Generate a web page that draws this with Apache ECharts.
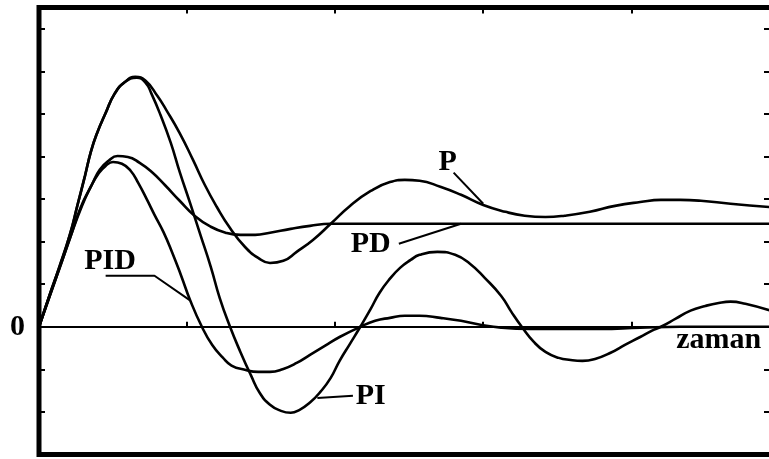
<!DOCTYPE html>
<html>
<head>
<meta charset="utf-8">
<script src="https://cdn.jsdelivr.net/npm/echarts@6/dist/echarts.min.js"></script>
<style>
  html, body { margin: 0; padding: 0; background: #fff; }
  #chart { width: 769px; height: 459px; }
</style>
</head>
<body>
<div id="chart"></div>
<script>
// step responses, time in tick units, output in tick units
var pTime = [0, 0.07, 0.14, 0.21, 0.26, 0.31, 0.35, 0.39, 0.45, 0.51, 0.58, 0.65, 0.72, 0.80, 0.86, 0.95, 1.04, 1.12, 1.20, 1.29, 1.39, 1.48, 1.56, 1.65, 1.74, 1.85, 1.97, 2.10, 2.24, 2.37, 2.47, 2.57, 2.71, 2.85, 3.00, 3.15, 3.28, 3.42, 3.55, 3.72, 3.89, 4.06, 4.20, 4.33, 4.47, 4.67, 4.95];
var pValue = [0, 0.73, 1.43, 2.18, 2.86, 3.54, 4.11, 4.53, 5.02, 5.47, 5.75, 5.87, 5.78, 5.42, 5.09, 4.55, 3.92, 3.33, 2.82, 2.32, 1.88, 1.62, 1.50, 1.55, 1.76, 2.04, 2.42, 2.84, 3.19, 3.40, 3.45, 3.43, 3.29, 3.10, 2.86, 2.70, 2.61, 2.58, 2.61, 2.70, 2.84, 2.93, 2.98, 2.98, 2.96, 2.89, 2.81];

var piTime = [0, 0.07, 0.14, 0.21, 0.26, 0.31, 0.35, 0.39, 0.45, 0.51, 0.58, 0.66, 0.72, 0.76, 0.82, 0.89, 0.95, 1.02, 1.09, 1.16, 1.22, 1.29, 1.36, 1.43, 1.49, 1.56, 1.63, 1.70, 1.76, 1.83, 1.90, 1.97, 2.03, 2.10, 2.17, 2.24, 2.30, 2.37, 2.44, 2.51, 2.57, 2.69, 2.81, 2.91, 3.01, 3.12, 3.19, 3.26, 3.34, 3.42, 3.51, 3.59, 3.67, 3.76, 3.86, 3.96, 4.06, 4.14, 4.20, 4.30, 4.40, 4.50, 4.59, 4.67, 4.77, 4.95];
var piValue = [0, 0.73, 1.43, 2.18, 2.86, 3.54, 4.11, 4.53, 5.02, 5.47, 5.75, 5.85, 5.73, 5.47, 4.98, 4.32, 3.64, 2.91, 2.16, 1.41, 0.68, 0, -0.59, -1.13, -1.55, -1.83, -1.97, -2.02, -1.95, -1.78, -1.53, -1.20, -0.80, -0.40, 0, 0.42, 0.80, 1.13, 1.39, 1.57, 1.69, 1.76, 1.69, 1.48, 1.15, 0.73, 0.35, 0, -0.35, -0.59, -0.73, -0.78, -0.80, -0.75, -0.61, -0.42, -0.24, -0.09, 0, 0.19, 0.38, 0.49, 0.56, 0.59, 0.54, 0.37];

var pdTime = [0, 0.07, 0.14, 0.21, 0.29, 0.36, 0.41, 0.47, 0.53, 0.60, 0.68, 0.76, 0.85, 0.95, 1.05, 1.16, 1.26, 1.36, 1.46, 1.56, 1.70, 1.83, 1.97, 2.17, 4.95];
var pdValue = [0, 0.70, 1.39, 2.09, 2.84, 3.36, 3.69, 3.90, 4.01, 3.99, 3.85, 3.64, 3.33, 2.96, 2.61, 2.35, 2.21, 2.16, 2.16, 2.21, 2.30, 2.37, 2.42, 2.42, 2.42];

var pidTime = [0, 0.07, 0.14, 0.21, 0.28, 0.35, 0.40, 0.45, 0.50, 0.56, 0.62, 0.67, 0.73, 0.78, 0.84, 0.90, 0.96, 1.02, 1.10, 1.17, 1.24, 1.30, 1.39, 1.48, 1.56, 1.65, 1.74, 1.83, 1.93, 2.03, 2.17, 2.27, 2.37, 2.47, 2.57, 2.71, 2.85, 2.98, 3.12, 3.32, 3.52, 3.79, 4.06, 4.33, 4.95];
var pidValue = [0, 0.70, 1.39, 2.09, 2.79, 3.29, 3.59, 3.78, 3.87, 3.83, 3.66, 3.38, 2.98, 2.63, 2.23, 1.74, 1.20, 0.63, 0, -0.43, -0.72, -0.91, -1.01, -1.06, -1.06, -0.99, -0.85, -0.66, -0.45, -0.24, 0, 0.14, 0.21, 0.26, 0.26, 0.21, 0.14, 0.05, -0.02, -0.05, -0.05, -0.05, -0.02, 0, 0];

// curve names and where they sit
var labelNames = ['P', 'PD', 'PI', 'PID', 'zaman'];
var labelX = [2.76, 2.24, 2.24, 0.48, 4.59];
var labelY = [3.87, 1.93, -1.62, 1.53, -0.31];

// leader lines from the names to the curves
var pLeader = [[2.80, 3.62], [3.00, 2.89]];
var pdLeader = [[2.43, 1.95], [2.85, 2.42]];
var piLeader = [[1.88, -1.67], [2.12, -1.62]];
var pidLeader = [[0.45, 1.20], [0.78, 1.20], [1.02, 0.62]];

function zip(t, v) {
  return t.map(function (x, i) { return [x, v[i]]; });
}

var serif = '"Liberation Serif", "DejaVu Serif", serif';

function curve(name, data) {
  return {
    name: name,
    type: 'line',
    data: data,
    smooth: 0.5,
    showSymbol: false,
    lineStyle: { color: '#000', width: 2.6 },
    z: 3
  };
}

function leader(data) {
  return {
    type: 'line',
    data: data,
    showSymbol: false,
    lineStyle: { color: '#000', width: 2 },
    z: 3
  };
}

var chart = echarts.init(document.getElementById('chart'));
var option = {
  animation: false,
  backgroundColor: '#fff',
  // right edge of the frame sits just past the picture
  grid: {
    left: 39, top: 7.5, width: 733, height: 447,
    outerBoundsMode: 'none',
    show: true, borderColor: '#000', borderWidth: 5
  },
  xAxis: [
    {
      // zero line with small upward ticks
      type: 'value', min: 0, max: 4.95, interval: 1, position: 'bottom',
      axisLine: { onZero: true, lineStyle: { color: '#000', width: 2 } },
      axisTick: { inside: true, length: 5, lineStyle: { color: '#000', width: 2 } },
      axisLabel: { show: false },
      splitLine: { show: false }
    },
    {
      type: 'value', min: 0, max: 4.95, interval: 1, position: 'top',
      axisLine: { show: false, onZero: false },
      axisTick: { inside: true, length: 6, lineStyle: { color: '#000', width: 2 } },
      axisLabel: { show: false },
      splitLine: { show: false }
    }
  ],
  yAxis: [
    {
      type: 'value', min: -3, max: 7.5, interval: 1, position: 'left',
      axisLine: { show: false, onZero: false },
      axisTick: { inside: true, length: 6, lineStyle: { color: '#000', width: 2 } },
      axisLabel: {
        margin: 14,
        color: '#000',
        fontFamily: serif,
        fontWeight: 'bold',
        fontSize: 30,
        formatter: function (v) { return v === 0 ? '0' : ''; }
      },
      splitLine: { show: false }
    },
    {
      type: 'value', min: -3, max: 7.5, interval: 1, position: 'right',
      axisLine: { show: false, onZero: false },
      axisTick: { inside: true, length: 8, lineStyle: { color: '#000', width: 2 } },
      axisLabel: { show: false },
      splitLine: { show: false }
    }
  ],
  series: [
    curve('P', zip(pTime, pValue)),
    curve('PI', zip(piTime, piValue)),
    curve('PD', zip(pdTime, pdValue)),
    curve('PID', zip(pidTime, pidValue)),
    leader(pLeader),
    leader(pdLeader),
    leader(piLeader),
    leader(pidLeader),
    {
      type: 'scatter',
      symbolSize: 0,
      itemStyle: { color: '#000' },
      data: labelNames.map(function (n, i) {
        return { name: n, value: [labelX[i], labelY[i]] };
      }),
      label: {
        show: true,
        position: 'inside',
        formatter: '{b}',
        color: '#000',
        opacity: 1,
        fontFamily: serif,
        fontWeight: 'bold',
        fontSize: 30
      },
      z: 5
    }
  ]
};
chart.setOption(option);
</script>
</body>
</html>
